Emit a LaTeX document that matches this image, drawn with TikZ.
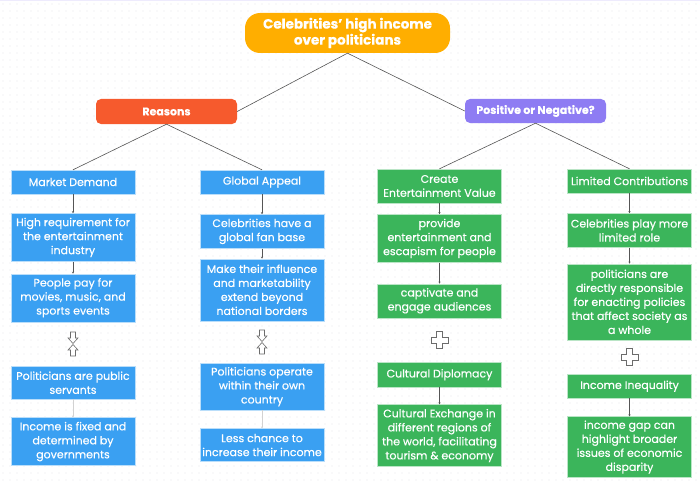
\documentclass[tikz,border=0pt]{standalone}
\usepackage{fontspec}
\setmainfont{Poppins}[FakeBold=0.4]
\usetikzlibrary{positioning,arrows.meta,calc}
\definecolor{titleorange}{HTML}{FFAE00}
\definecolor{reasonred}{HTML}{F65A2D}
\definecolor{judgepurple}{HTML}{8E7CF3}
\definecolor{boxblue}{HTML}{3AA0F2}
\definecolor{boxgreen}{HTML}{3BB55B}
\definecolor{linkgray}{HTML}{555555}
\definecolor{dotgray}{HTML}{E4E4EA}
\tikzset{
    topic/.style={rectangle, rounded corners=5pt, text=white, font=\bfseries\fontsize{11}{13}\selectfont, minimum width=141pt, minimum height=25pt, align=center},
    card/.style={rectangle, draw=white!65!boxblue, fill=boxblue, text=white, minimum width=124pt, inner xsep=1pt, inner ysep=2pt, align=center, font=\fontsize{11}{14}\selectfont, minimum height=24pt},
    gcard/.style={card, fill=boxgreen, draw=white!65!boxgreen},
    link/.style={draw=linkgray, line width=0.6pt},
    flow/.style={-{Stealth[length=2pt,width=2.2pt]}, draw=linkgray, line width=0.7pt},
    softflow/.style={flow, draw=gray!35},
    sign/.style={draw=gray!85!black, fill=white, line width=0.6pt}
}

\begin{document}
\begin{tikzpicture}[x=1pt, y=-1pt]
\useasboundingbox (0,0) rectangle (700,484);
% dotted paper
\foreach \i in {0,...,99}
  \foreach \j in {0,...,68}
    \fill[dotgray] (\i*7+3, \j*7+4) circle (0.6);
\draw[judgepurple!15, line width=1pt] (0,0.5) -- (700,0.5);

% top of the tree
\node[topic, fill=titleorange, rounded corners=15pt, minimum width=205pt, minimum height=40pt, font=\bfseries\fontsize{13.5}{16}\selectfont] (title) at (347.5,33) {Celebrities’ high income\\over politicians};
\node[topic, fill=reasonred] (reasons) at (166.5,111.5) {Reasons};
\node[topic, fill=judgepurple, minimum height=24pt] (judge) at (535.5,111) {Positive or Negative?};

% column heads
\node[card] (demand) at (73,182) {Market Demand};
\node[card] (appeal) at (262,182) {Global Appeal};
\node[gcard, minimum height=34pt] (value) at (439.5,186) {Create\\Entertainment Value};
\node[gcard] (limited) at (629.5,181) {Limited Contributions};

% market demand
\node[card, minimum height=48pt, below=19pt of demand] (require) {High requirement for\\the entertainment\\industry};
\node[card, minimum height=48pt, below=12pt of require] (pay) {People pay for\\movies, music, and\\sports events};
\node[card, minimum height=33pt, below=44pt of pay] (servants) {Politicians are public\\servants};
\node[card, minimum height=48pt, below=18pt of servants] (fixed) {Income is fixed and\\determined by\\governments};

% global appeal
\node[card, minimum height=34pt, below=20pt of appeal] (fanbase) {Celebrities have a\\global fan base};
\node[card, minimum height=62pt, below=10pt of fanbase] (influence) {Make their influence\\and marketability\\extend beyond\\national borders};
\node[card, minimum height=47pt, below=42pt of influence] (operate) {Politicians operate\\within their own\\country};
\node[card, minimum height=33pt, below=18pt of operate] (chance) {Less chance to\\increase their income};

% entertainment value
\node[gcard, minimum height=48pt, below=11pt of value] (escape) {provide\\entertainment and\\escapism for people};
\node[gcard, minimum height=34pt, below=21pt of escape] (engage) {captivate and\\engage audiences};
\node[gcard, minimum height=25pt, below=44pt of engage] (diplomacy) {Cultural Diplomacy};
\node[gcard, minimum height=62pt, below=17pt of diplomacy] (exchange) {Cultural Exchange in\\different regions of\\the world, facilitating\\tourism \& economy};

% limited contributions
\node[gcard, minimum height=34pt, below=20pt of limited] (role) {Celebrities play more\\limited role};
\node[gcard, minimum height=76pt, below=16pt of role] (enact) {politicians are\\directly responsible\\for enacting policies\\that affect society as\\a whole};
\node[gcard, minimum height=24pt, below=34pt of enact] (inequality) {Income Inequality};
\node[gcard, minimum height=61pt, below=18pt of inequality] (gap) {income gap can\\highlight broader\\issues of economic\\disparity};

% tree lines
\draw[link] (title.south) -- (reasons.east);
\draw[link] (title.south) -- (judge.west);
\draw[link] (reasons.south) -- (demand.north);
\draw[link] (reasons.south) -- (appeal.north);
\draw[link] (judge.south) -- (value.north);
\draw[link] (judge.south) -- (limited.north);

% column flows
\draw[flow] (demand) -- (require);
\draw[flow] (require) -- (pay);
\draw[softflow] (servants) -- (fixed);
\draw[flow] (appeal) -- (fanbase);
\draw[flow] (fanbase) -- (influence);
\draw[softflow] (operate) -- (chance);
\draw[flow] (value) -- (escape);
\draw[flow] (escape) -- (engage);
\draw[flow] (diplomacy) -- (exchange);
\draw[flow] (limited) -- (role);
\draw[flow] (role) -- (enact);
\draw[flow] (inequality) -- (gap);

% signs between the groups
\coordinate (versusA) at ($(pay.south)!0.5!(servants.north)$);
\coordinate (versusB) at ($(influence.south)!0.5!(operate.north)$);
\coordinate (plusA) at ($(engage.south)!0.5!(diplomacy.north)$);
\coordinate (plusB) at ($(enact.south)!0.5!(inequality.north)$);
\foreach \c in {versusA,versusB} {
  \draw[sign, shift={(\c)}] (-2.5,-12) -- (2.5,-12) -- (2.5,-6) -- (5,-6) -- (0,-0.5) -- (-5,-6) -- (-2.5,-6) -- cycle;
  \draw[sign, shift={(\c)}] (-2.5,12) -- (2.5,12) -- (2.5,6) -- (5,6) -- (0,0.5) -- (-5,6) -- (-2.5,6) -- cycle;
}
\foreach \c in {plusA,plusB}
  \draw[sign, shift={(\c)}] (-3,-8.5) -- (3,-8.5) -- (3,-3) -- (8.5,-3) -- (8.5,3) -- (3,3) -- (3,8.5) -- (-3,8.5) -- (-3,3) -- (-8.5,3) -- (-8.5,-3) -- (-3,-3) -- cycle;
\end{tikzpicture}
\end{document}
